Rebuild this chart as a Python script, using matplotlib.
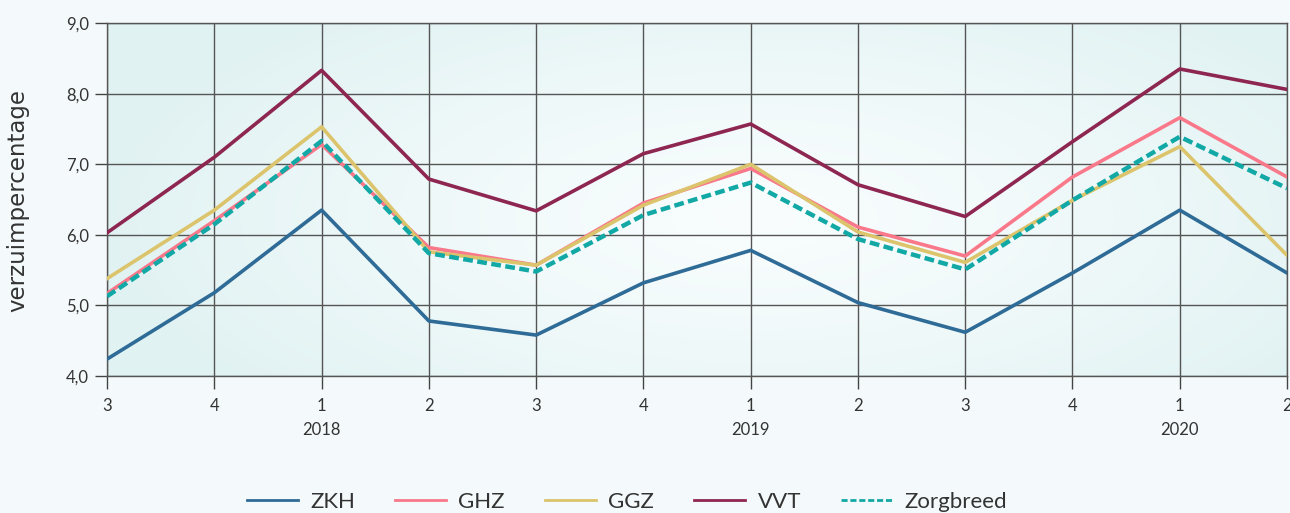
import numpy as np
import matplotlib.pyplot as plt
import matplotlib.transforms as mtransforms

plt.rcParams['font.family'] = ['Lato', 'DejaVu Sans']

# data
quarters = ['3', '4', '1', '2', '3', '4', '1', '2', '3', '4', '1', '2']
years = ['2018', '2019', '2020']
year_pos = [2, 6, 10]

zkh = [4.24, 5.18, 6.35, 4.78, 4.58, 5.32, 5.78, 5.04, 4.62, 5.46, 6.35, 5.46]
ghz = [5.17, 6.20, 7.28, 5.82, 5.57, 6.45, 6.94, 6.11, 5.70, 6.82, 7.66, 6.82]
ggz = [5.38, 6.35, 7.53, 5.76, 5.57, 6.42, 7.00, 6.04, 5.61, 6.49, 7.25, 5.71]
vvt = [6.03, 7.10, 8.33, 6.79, 6.34, 7.15, 7.57, 6.71, 6.26, 7.32, 8.35, 8.06]
zorg = [5.13, 6.15, 7.33, 5.74, 5.48, 6.28, 6.74, 5.94, 5.51, 6.49, 7.39, 6.66]

series = [('ZKH', zkh, '#2f6b97'),
          ('GHZ', ghz, '#f9788a'),
          ('GGZ', ggz, '#dcc46c'),
          ('VVT', vvt, '#8e2652')]

fig = plt.figure(figsize=(12.9, 5.13), dpi=100, facecolor='#f4fafb')
ax = fig.add_axes([0.083, 0.267, 0.9147, 0.688])

# radial background gradient in the plot area
gx, gy = np.meshgrid(np.linspace(0, 1, 400), np.linspace(0, 1, 200))
d = np.sqrt(((gx - 0.55) / 0.55) ** 2 + ((gy - 0.45) / 0.75) ** 2)
d = np.clip(d, 0, 1)
c0 = np.array([0.975, 0.992, 0.994])
c1 = np.array([0.885, 0.950, 0.952])
img = c0 + (c1 - c0) * d[..., None] ** 1.3
ax.imshow(img, extent=[0, 1, 0, 1], transform=ax.transAxes, aspect='auto',
          zorder=0, origin='lower')

x = np.arange(len(quarters))
for name, vals, col in series:
    ax.plot(x, vals, color=col, lw=2.6, label=name, zorder=3)
ax.plot(x, zorg, color='#12a8a5', lw=3.2, ls=(0, (2.2, 1.0)), label='Zorgbreed', zorder=4)

ax.set_xlim(0, 11)
ax.set_ylim(4, 9)
ax.set_xticks(x)
ax.set_xticklabels(quarters, fontsize=12, color='#333333')
ax.set_yticks([4, 5, 6, 7, 8, 9])
ax.set_yticklabels(['4,0', '5,0', '6,0', '7,0', '8,0', '9,0'], fontsize=12, color='#333333')
ax.tick_params(axis='both', length=9, width=1, color='#444444')
ax.tick_params(axis='x', pad=7)
ax.tick_params(axis='y', pad=4)
ax.grid(True, color='#555555', lw=1, zorder=1)
ax.set_axisbelow(True)
for s in ax.spines.values():
    s.set_color('#555555')
    s.set_linewidth(1)

# year labels under the quarters
trans = mtransforms.blended_transform_factory(ax.transData, fig.transFigure)
for yr, p in zip(years, year_pos):
    ax.text(p, 1 - 430 / 513, yr, transform=trans, ha='center', va='center',
            fontsize=12, color='#333333')

fig.text(0.014, 0.61, 'verzuimpercentage', rotation=90, ha='center', va='center',
         fontsize=16.5, color='#333333', family='DejaVu Sans')

handles, labels = ax.get_legend_handles_labels()
leg = fig.legend(handles, labels, loc='center', bbox_to_anchor=(0.486, 0.021), ncol=5,
                 frameon=False, fontsize=16, handlelength=2.3, columnspacing=1.8,
                 handletextpad=0.55, labelcolor='#333333')
for h in leg.get_lines():
    h.set_linewidth(2.0)

plt.savefig('out.png', dpi=100, facecolor=fig.get_facecolor())
